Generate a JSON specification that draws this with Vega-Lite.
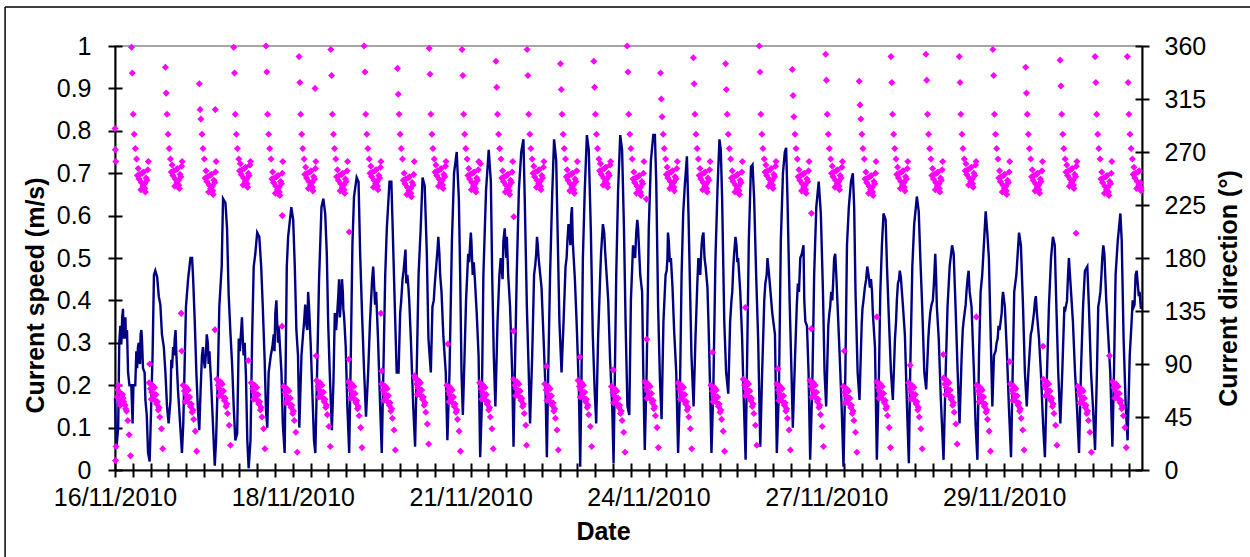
{
"$schema":"https://vega.github.io/schema/vega-lite/v6.json",
"width":1027,"height":424,
"autosize":{"type":"none"},
"padding":{"left":115,"top":46,"right":108,"bottom":87},
"background":"white",
"datasets":{
"speed":[
{"h":0,"s":0.17},{"h":0.5,"s":0.05},{"h":1.2,"s":0.10},{"h":1.6,"s":0.30},{"h":2.4,"s":0.30},{"h":3,"s":0.38},{"h":3.5,"s":0.33},{"h":3.9,"s":0.36},{"h":4.1,"s":0.31},{"h":4.5,"s":0.33},{"h":4.9,"s":0.23},{"h":5.4,"s":0.20},{"h":6.1,"s":0.20},{"h":6.6,"s":0.11},{"h":6.9,"s":0.20},{"h":7.6,"s":0.20},{"h":8,"s":0.28},{"h":8.6,"s":0.29},{"h":9.1,"s":0.26},{"h":9.6,"s":0.32},{"h":10.1,"s":0.31},{"h":10.5,"s":0.24},{"h":11.1,"s":0.23},{"h":11.4,"s":0.165},{"h":11.9,"s":0.13},{"h":12.4,"s":0.04},{"h":13,"s":0.02},{"h":13.6,"s":0.16},{"h":14.1,"s":0.275},{"h":14.6,"s":0.46},{"h":15.1,"s":0.47},{"h":15.8,"s":0.455},{"h":16.4,"s":0.41},{"h":17,"s":0.39},{"h":17.6,"s":0.32},{"h":18.3,"s":0.29},{"h":18.9,"s":0.23},{"h":19.5,"s":0.15},{"h":20.1,"s":0.11},{"h":20.8,"s":0.165},{"h":21.1,"s":0.26},{"h":21.8,"s":0.29},{"h":22.4,"s":0.31},{"h":23,"s":0.275},{"h":23.6,"s":0.19},{"h":24.4,"s":0.11},{"h":25.1,"s":0.04},{"h":25.6,"s":0.11},{"h":26.6,"s":0.385},{"h":27.4,"s":0.45},{"h":28.3,"s":0.50},{"h":28.9,"s":0.50},{"h":29.3,"s":0.45},{"h":29.9,"s":0.35},{"h":30.5,"s":0.23},{"h":31.1,"s":0.14},{"h":31.6,"s":0.094},{"h":32.1,"s":0.19},{"h":32.6,"s":0.27},{"h":33.3,"s":0.26},{"h":34.1,"s":0.275},{"h":34.8,"s":0.30},{"h":35.4,"s":0.28},{"h":36,"s":0.21},{"h":36.6,"s":0.125},{"h":37.4,"s":0.01},{"h":37.9,"s":0.07},{"h":38.6,"s":0.23},{"h":39.1,"s":0.385},{"h":40,"s":0.48},{"h":40.5,"s":0.64},{"h":41.4,"s":0.63},{"h":42,"s":0.57},{"h":42.6,"s":0.415},{"h":43.3,"s":0.32},{"h":43.9,"s":0.25},{"h":44.5,"s":0.15},{"h":45.1,"s":0.07},{"h":45.8,"s":0.086},{"h":46.4,"s":0.31},{"h":47.3,"s":0.33},{"h":47.9,"s":0.31},{"h":48.6,"s":0.30},{"h":49.1,"s":0.22},{"h":49.6,"s":0.07},{"h":50.1,"s":0.004},{"h":50.8,"s":0.07},{"h":51.4,"s":0.31},{"h":52,"s":0.48},{"h":52.6,"s":0.51},{"h":53.3,"s":0.56},{"h":54.1,"s":0.55},{"h":54.8,"s":0.48},{"h":55.4,"s":0.385},{"h":56.1,"s":0.26},{"h":56.6,"s":0.14},{"h":57.1,"s":0.10},{"h":57.6,"s":0.23},{"h":58.4,"s":0.27},{"h":59.5,"s":0.32},{"h":60.1,"s":0.37},{"h":60.9,"s":0.33},{"h":61.4,"s":0.34},{"h":62.4,"s":0.23},{"h":62.9,"s":0.11},{"h":63.6,"s":0.04},
{"h":64.4,"s":0.48},{"h":64.9,"s":0.55},{"h":66.1,"s":0.62},{"h":66.8,"s":0.59},{"h":67.4,"s":0.48},{"h":68,"s":0.33},{"h":68.6,"s":0.27},{"h":69.1,"s":0.10},{"h":69.9,"s":0.27},{"h":70.5,"s":0.32},{"h":71.3,"s":0.39},{"h":71.8,"s":0.34},{"h":72.4,"s":0.42},{"h":73,"s":0.35},{"h":73.4,"s":0.29},{"h":74,"s":0.18},{"h":74.6,"s":0.07},{"h":75.1,"s":0.04},{"h":75.9,"s":0.27},{"h":76.5,"s":0.45},{"h":77.4,"s":0.62},{"h":78.1,"s":0.64},{"h":78.8,"s":0.605},{"h":79.4,"s":0.51},{"h":79.9,"s":0.35},{"h":80.5,"s":0.23},{"h":81.3,"s":0.094},{"h":81.9,"s":0.21},{"h":82.4,"s":0.37},{"h":83.4,"s":0.38},{"h":84,"s":0.45},{"h":84.6,"s":0.39},{"h":85.4,"s":0.42},{"h":85.9,"s":0.36},{"h":86.5,"s":0.29},{"h":87.1,"s":0.15},{"h":87.8,"s":0.04},{"h":88.4,"s":0.27},{"h":89,"s":0.53},{"h":89.6,"s":0.645},{"h":90.6,"s":0.69},{"h":91.3,"s":0.68},{"h":91.9,"s":0.51},{"h":92.6,"s":0.37},{"h":93.4,"s":0.23},{"h":94.1,"s":0.126},{"h":94.9,"s":0.23},{"h":95.6,"s":0.35},{"h":96.4,"s":0.45},{"h":97.1,"s":0.44},{"h":97.9,"s":0.42},{"h":98.6,"s":0.31},{"h":99.4,"s":0.15},{"h":100,"s":0.04},{"h":100.6,"s":0.23},{"h":101.3,"s":0.46},{"h":101.9,"s":0.57},{"h":102.9,"s":0.68},{"h":103.6,"s":0.68},{"h":104.1,"s":0.57},{"h":104.9,"s":0.385},{"h":105.6,"s":0.23},{"h":106.3,"s":0.23},{"h":106.9,"s":0.37},{"h":107.8,"s":0.45},{"h":108.6,"s":0.50},{"h":109.6,"s":0.46},{"h":110.3,"s":0.40},{"h":110.9,"s":0.31},{"h":111.8,"s":0.15},{"h":112.5,"s":0.055},{"h":113.1,"s":0.23},{"h":113.8,"s":0.46},{"h":114.6,"s":0.57},{"h":115.3,"s":0.69},{"h":116.1,"s":0.67},{"h":116.9,"s":0.51},{"h":117.5,"s":0.31},{"h":118.4,"s":0.23},{"h":119,"s":0.385},{"h":119.9,"s":0.44},{"h":120.9,"s":0.52},{"h":121.6,"s":0.51},{"h":122.4,"s":0.42},{"h":123.1,"s":0.315},{"h":124,"s":0.23},{"h":124.6,"s":0.07},{"h":125.4,"s":0.23},{"h":126.3,"s":0.54},{"h":127.1,"s":0.70},{"h":128.1,"s":0.75},
{"h":128.9,"s":0.64},{"h":129.4,"s":0.46},{"h":129.9,"s":0.23},{"h":130.4,"s":0.13},{"h":131,"s":0.26},{"h":131.6,"s":0.40},{"h":132.4,"s":0.51},{"h":133.1,"s":0.53},{"h":133.6,"s":0.54},{"h":134.1,"s":0.46},{"h":134.9,"s":0.45},{"h":135.6,"s":0.37},{"h":136.3,"s":0.27},{"h":136.9,"s":0.03},{"h":137.5,"s":0.15},{"h":138.1,"s":0.46},{"h":139.1,"s":0.66},{"h":140.1,"s":0.755},{"h":140.9,"s":0.68},{"h":141.4,"s":0.46},{"h":142,"s":0.27},{"h":142.6,"s":0.15},{"h":143.4,"s":0.35},{"h":144.1,"s":0.46},{"h":145,"s":0.47},{"h":145.6,"s":0.54},{"h":146.4,"s":0.53},{"h":146.9,"s":0.55},{"h":147.4,"s":0.46},{"h":148.1,"s":0.385},{"h":148.9,"s":0.23},{"h":149.4,"s":0.055},{"h":149.9,"s":0.23},{"h":150.6,"s":0.46},{"h":151.4,"s":0.66},{"h":152.3,"s":0.75},{"h":153.1,"s":0.78},{"h":153.6,"s":0.64},{"h":154.4,"s":0.385},{"h":155.1,"s":0.23},{"h":155.6,"s":0.11},{"h":156.4,"s":0.27},{"h":157.1,"s":0.46},{"h":157.9,"s":0.51},{"h":158.5,"s":0.53},{"h":159.1,"s":0.48},{"h":159.9,"s":0.43},{"h":160.6,"s":0.32},{"h":161.4,"s":0.19},{"h":161.9,"s":0.03},{"h":162.4,"s":0.23},{"h":163.1,"s":0.46},{"h":163.9,"s":0.65},{"h":164.6,"s":0.78},{"h":165.4,"s":0.73},{"h":166,"s":0.54},{"h":166.6,"s":0.35},{"h":167.4,"s":0.23},{"h":168.1,"s":0.34},{"h":168.9,"s":0.48},{"h":169.6,"s":0.54},{"h":170.4,"s":0.56},{"h":171,"s":0.60},{"h":171.6,"s":0.54},{"h":172.4,"s":0.45},{"h":173.1,"s":0.34},{"h":173.9,"s":0.19},{"h":174.4,"s":0.008},{"h":174.9,"s":0.23},{"h":175.4,"s":0.50},{"h":176.1,"s":0.66},{"h":176.9,"s":0.79},{"h":177.6,"s":0.755},{"h":178.4,"s":0.56},{"h":179.1,"s":0.32},{"h":179.8,"s":0.19},{"h":180.4,"s":0.11},{"h":181.1,"s":0.31},{"h":181.9,"s":0.46},{"h":182.6,"s":0.55},{"h":183.4,"s":0.56},{"h":184.1,"s":0.48},{"h":184.9,"s":0.40},{"h":185.6,"s":0.26},{"h":186.4,"s":0.15},{"h":186.9,"s":0.016},{"h":187.4,"s":0.23},{"h":187.9,"s":0.46},{"h":188.6,"s":0.66},{"h":189.4,"s":0.79},{"h":190.1,"s":0.755},{"h":190.8,"s":0.57},{"h":191.4,"s":0.35},{"h":192.1,"s":0.15},{"h":192.8,"s":0.13},
{"h":193.4,"s":0.40},{"h":193.9,"s":0.48},{"h":194.6,"s":0.51},{"h":195.4,"s":0.56},{"h":196.1,"s":0.57},{"h":196.9,"s":0.46},{"h":197.6,"s":0.42},{"h":198.1,"s":0.21},{"h":198.6,"s":0.047},{"h":199.3,"s":0.23},{"h":200.1,"s":0.57},{"h":200.9,"s":0.73},{"h":201.8,"s":0.79},{"h":202.4,"s":0.79},{"h":202.9,"s":0.68},{"h":203.6,"s":0.385},{"h":204.3,"s":0.21},{"h":204.9,"s":0.12},{"h":205.6,"s":0.35},{"h":206.4,"s":0.46},{"h":207.1,"s":0.50},{"h":207.6,"s":0.54},{"h":208.4,"s":0.50},{"h":209,"s":0.43},{"h":209.6,"s":0.33},{"h":210.4,"s":0.23},{"h":211.1,"s":0.04},{"h":211.8,"s":0.19},{"h":212.4,"s":0.46},{"h":213,"s":0.605},{"h":213.6,"s":0.67},{"h":214.4,"s":0.74},{"h":215,"s":0.60},{"h":215.6,"s":0.42},{"h":216.1,"s":0.27},{"h":216.9,"s":0.15},{"h":217.6,"s":0.31},{"h":218.3,"s":0.44},{"h":219,"s":0.48},{"h":219.9,"s":0.53},{"h":220.6,"s":0.56},{"h":221.4,"s":0.48},{"h":222.1,"s":0.43},{"h":222.6,"s":0.32},{"h":223.1,"s":0.19},{"h":223.6,"s":0.04},{"h":224.3,"s":0.19},{"h":225.1,"s":0.50},{"h":225.9,"s":0.67},{"h":226.6,"s":0.78},{"h":227.1,"s":0.755},{"h":227.6,"s":0.64},{"h":228.4,"s":0.35},{"h":229.1,"s":0.23},{"h":229.9,"s":0.18},{"h":230.6,"s":0.35},{"h":231.4,"s":0.42},{"h":232.1,"s":0.51},{"h":233,"s":0.53},{"h":233.6,"s":0.50},{"h":234.4,"s":0.42},{"h":235.1,"s":0.31},{"h":235.6,"s":0.19},{"h":236.4,"s":0.024},{"h":236.9,"s":0.23},{"h":237.6,"s":0.54},{"h":238.4,"s":0.715},{"h":239,"s":0.72},{"h":239.6,"s":0.64},{"h":240.4,"s":0.45},{"h":241.1,"s":0.31},{"h":241.9,"s":0.055},{"h":242.6,"s":0.23},{"h":243.4,"s":0.40},{"h":244.3,"s":0.46},{"h":244.9,"s":0.48},{"h":245.6,"s":0.43},{"h":246.4,"s":0.37},{"h":247.4,"s":0.32},{"h":248.1,"s":0.04},{"h":248.9,"s":0.19},{"h":249.6,"s":0.54},{"h":250.4,"s":0.70},{"h":251.1,"s":0.75},{"h":251.6,"s":0.76},{"h":252.1,"s":0.64},{"h":252.9,"s":0.40},{"h":253.6,"s":0.23},{"h":254.1,"s":0.10},{"h":254.9,"s":0.26},{"h":255.6,"s":0.39},{"h":256.4,"s":0.42},
{"h":257.5,"s":0.51},{"h":258.1,"s":0.53},{"h":258.8,"s":0.35},{"h":259.4,"s":0.34},{"h":260,"s":0.23},{"h":260.6,"s":0.024},{"h":261.4,"s":0.2},{"h":262.1,"s":0.46},{"h":262.9,"s":0.62},{"h":263.8,"s":0.68},{"h":264.6,"s":0.605},{"h":265.4,"s":0.42},{"h":266,"s":0.23},{"h":266.6,"s":0.15},{"h":267.4,"s":0.34},{"h":268.1,"s":0.385},{"h":268.9,"s":0.40},{"h":269.6,"s":0.50},{"h":270.4,"s":0.46},{"h":270.9,"s":0.385},{"h":271.6,"s":0.28},{"h":272.4,"s":0.15},{"h":273.1,"s":0.008},{"h":273.8,"s":0.23},{"h":274.4,"s":0.53},{"h":275.1,"s":0.62},{"h":275.9,"s":0.68},{"h":276.6,"s":0.70},{"h":277.1,"s":0.62},{"h":277.6,"s":0.42},{"h":278.4,"s":0.23},{"h":279.1,"s":0.165},{"h":279.9,"s":0.34},{"h":280.6,"s":0.40},{"h":281.6,"s":0.45},{"h":282.5,"s":0.46},{"h":283.4,"s":0.45},{"h":284.1,"s":0.37},{"h":284.9,"s":0.29},{"h":285.6,"s":0.024},{"h":286.4,"s":0.23},{"h":286.9,"s":0.42},{"h":287.5,"s":0.53},{"h":288.1,"s":0.605},{"h":288.9,"s":0.59},{"h":289.4,"s":0.48},{"h":290.1,"s":0.36},{"h":290.9,"s":0.23},{"h":291.6,"s":0.165},{"h":292.4,"s":0.31},{"h":293.1,"s":0.40},{"h":293.9,"s":0.45},{"h":294.6,"s":0.455},{"h":295.4,"s":0.385},{"h":296.1,"s":0.32},{"h":296.9,"s":0.15},{"h":297.6,"s":0.016},{"h":298.1,"s":0.23},{"h":298.9,"s":0.48},{"h":299.6,"s":0.58},{"h":300.6,"s":0.645},{"h":301.3,"s":0.61},{"h":301.9,"s":0.50},{"h":302.6,"s":0.385},{"h":303.4,"s":0.23},{"h":304.1,"s":0.19},{"h":304.9,"s":0.31},{"h":305.6,"s":0.37},{"h":306.6,"s":0.40},{"h":307.5,"s":0.51},{"h":308.1,"s":0.385},{"h":308.8,"s":0.31},{"h":309.6,"s":0.165},{"h":310.6,"s":0.024},{"h":311.4,"s":0.23},{"h":312.1,"s":0.385},{"h":312.9,"s":0.48},{"h":313.8,"s":0.53},{"h":314.4,"s":0.51},{"h":315.1,"s":0.385},{"h":315.9,"s":0.23},{"h":316.6,"s":0.11},{"h":317.4,"s":0.27},{"h":318.1,"s":0.35},{"h":318.9,"s":0.39},{"h":319.6,"s":0.45},{"h":320.4,"s":0.42},{"h":321.1,"s":0.385},
{"h":322,"s":0.23},{"h":322.6,"s":0.11},{"h":323.3,"s":0.024},{"h":323.9,"s":0.27},{"h":324.5,"s":0.42},{"h":325.1,"s":0.46},{"h":325.8,"s":0.54},{"h":326.4,"s":0.61},{"h":327,"s":0.56},{"h":327.6,"s":0.50},{"h":328.3,"s":0.31},{"h":328.9,"s":0.15},{"h":329.5,"s":0.27},{"h":330.1,"s":0.28},{"h":330.9,"s":0.31},{"h":331.6,"s":0.33},{"h":332.4,"s":0.37},{"h":332.9,"s":0.42},{"h":333.6,"s":0.385},{"h":334.4,"s":0.27},{"h":335.1,"s":0.15},{"h":335.9,"s":0.03},{"h":336.4,"s":0.19},{"h":337.1,"s":0.42},{"h":337.9,"s":0.46},{"h":338.9,"s":0.56},{"h":339.6,"s":0.53},{"h":340.4,"s":0.385},{"h":341.1,"s":0.23},{"h":341.8,"s":0.15},{"h":342.4,"s":0.23},{"h":343.3,"s":0.32},{"h":344.1,"s":0.35},{"h":344.9,"s":0.40},{"h":345.6,"s":0.37},{"h":346.4,"s":0.31},{"h":347.1,"s":0.23},{"h":347.9,"s":0.11},{"h":348.6,"s":0.03},{"h":349.4,"s":0.23},{"h":350.1,"s":0.385},{"h":350.9,"s":0.50},{"h":351.6,"s":0.55},{"h":352.3,"s":0.53},{"h":352.9,"s":0.385},{"h":353.6,"s":0.23},{"h":354.4,"s":0.11},{"h":355.1,"s":0.23},{"h":355.9,"s":0.385},{"h":356.9,"s":0.40},{"h":357.6,"s":0.50},{"h":358.4,"s":0.42},{"h":359.1,"s":0.35},{"h":359.9,"s":0.23},{"h":360.6,"s":0.15},{"h":361.4,"s":0.04},{"h":362.1,"s":0.23},{"h":362.9,"s":0.385},{"h":363.6,"s":0.47},{"h":364.5,"s":0.48},{"h":365.1,"s":0.385},{"h":365.9,"s":0.23},{"h":366.6,"s":0.15},{"h":367.4,"s":0.047},{"h":368.1,"s":0.23},{"h":368.6,"s":0.385},{"h":369.4,"s":0.42},{"h":370.1,"s":0.50},{"h":370.9,"s":0.51},{"h":371.6,"s":0.40},{"h":372.4,"s":0.31},{"h":373.1,"s":0.23},{"h":373.9,"s":0.055},{"h":374.5,"s":0.23},{"h":375.1,"s":0.46},{"h":375.9,"s":0.54},{"h":376.9,"s":0.605},{"h":377.4,"s":0.54},{"h":378.1,"s":0.31},{"h":378.9,"s":0.15},{"h":379.6,"s":0.07},{"h":380.4,"s":0.27},{"h":381.1,"s":0.35},{"h":381.9,"s":0.385},{"h":382.6,"s":0.46},{"h":383.4,"s":0.44},{"h":384.1,"s":0.42},{"h":384.6,"s":0.38},
{"h":2.0,"s":0.34},{"h":2.7,"s":0.36},{"h":3.2,"s":0.31},
{"h":8.3,"s":0.24},{"h":8.9,"s":0.30},{"h":9.4,"s":0.25},{"h":9.9,"s":0.33},
{"h":21.4,"s":0.24},{"h":22.1,"s":0.27},{"h":22.7,"s":0.33},
{"h":33.0,"s":0.29},{"h":33.7,"s":0.24},{"h":34.4,"s":0.32},{"h":35.1,"s":0.25},
{"h":46.8,"s":0.28},{"h":47.6,"s":0.36},{"h":48.2,"s":0.27},
{"h":59.0,"s":0.29},{"h":59.8,"s":0.28},{"h":60.5,"s":0.40},{"h":61.1,"s":0.30},
{"h":70.9,"s":0.35},{"h":71.6,"s":0.36},{"h":72.1,"s":0.33},{"h":72.7,"s":0.39},
{"h":82.9,"s":0.33},{"h":83.7,"s":0.41},{"h":84.3,"s":0.36},{"h":85.1,"s":0.45},{"h":85.6,"s":0.38},
{"h":96.0,"s":0.40},{"h":96.8,"s":0.48},{"h":97.5,"s":0.39},
{"h":107.3,"s":0.40},{"h":108.2,"s":0.47},{"h":108.9,"s":0.52},{"h":109.2,"s":0.44},{"h":110.0,"s":0.43},
{"h":119.5,"s":0.40},{"h":120.4,"s":0.48},{"h":121.2,"s":0.55},{"h":121.9,"s":0.46},
{"h":132.8,"s":0.49},{"h":133.4,"s":0.56},{"h":134.5,"s":0.49},
{"h":144.6,"s":0.50},{"h":145.3,"s":0.45},{"h":146.1,"s":0.57},{"h":146.7,"s":0.50},
{"h":157.5,"s":0.48},{"h":158.2,"s":0.55},{"h":158.8,"s":0.50},
{"h":169.3,"s":0.50},{"h":170.0,"s":0.58},{"h":170.7,"s":0.53},{"h":171.3,"s":0.62},
{"h":182.2,"s":0.51},{"h":182.9,"s":0.58},{"h":183.7,"s":0.52},
{"h":194.2,"s":0.53},{"h":195.0,"s":0.50},{"h":195.8,"s":0.59},
{"h":206.8,"s":0.47},{"h":207.3,"s":0.56},{"h":208.0,"s":0.49},
{"h":218.7,"s":0.50},{"h":219.4,"s":0.46},{"h":220.2,"s":0.55},{"h":221.0,"s":0.50},
{"h":231.1,"s":0.40},{"h":231.8,"s":0.48},{"h":232.6,"s":0.55},{"h":233.3,"s":0.49},
{"h":243.8,"s":0.44},{"h":244.6,"s":0.50},{"h":245.2,"s":0.46},{"h":246.0,"s":0.40},
{"h":256.0,"s":0.44},{"h":256.9,"s":0.50},{"h":258.4,"s":0.40},
{"h":267.8,"s":0.37},{"h":268.5,"s":0.42},{"h":269.2,"s":0.44},{"h":270.0,"s":0.51},
{"h":280.2,"s":0.38},{"h":281.1,"s":0.43},{"h":282.0,"s":0.48},{"h":283.0,"s":0.43},{"h":283.8,"s":0.42},
{"h":292.8,"s":0.35},{"h":293.5,"s":0.44},{"h":294.2,"s":0.47},{"h":295.0,"s":0.42},
{"h":305.2,"s":0.34},{"h":306.1,"s":0.39},{"h":307.0,"s":0.44},{"h":307.8,"s":0.46},
{"h":317.8,"s":0.33},{"h":318.5,"s":0.37},{"h":319.2,"s":0.42},{"h":320.0,"s":0.47},
{"h":330.5,"s":0.30},{"h":331.2,"s":0.34},{"h":332.0,"s":0.35},{"h":332.6,"s":0.40},
{"h":343.7,"s":0.33},{"h":344.5,"s":0.37},{"h":345.2,"s":0.41},
{"h":356.3,"s":0.38},{"h":357.2,"s":0.45},{"h":358.0,"s":0.46},
{"h":369.0,"s":0.40},{"h":369.8,"s":0.46},{"h":370.5,"s":0.53},
{"h":381.5,"s":0.40},{"h":382.2,"s":0.39},{"h":383.0,"s":0.47},{"h":383.8,"s":0.41}
],
"dir":[
{"h":0.0,"d":290},{"h":0.1,"d":272},{"h":0.3,"d":262},{"h":0.2,"d":8},{"h":0.4,"d":20},{"h":0.8,"d":62},{"h":1.3,"d":72},{"h":1.6,"d":58},{"h":1.8,"d":66},{"h":2.3,"d":60},{"h":2.8,"d":64},{"h":3.3,"d":58},{"h":3.8,"d":55},{"h":4.3,"d":50},{"h":4.8,"d":42},{"h":5.3,"d":30},{"h":5.8,"d":12},
{"h":6.2,"d":359},{"h":6.5,"d":337},{"h":6.8,"d":302},{"h":7.2,"d":285},{"h":7.6,"d":273},{"h":8.1,"d":264},{"h":8.7,"d":256},{"h":9.0,"d":247},{"h":9.3,"d":251},{"h":9.9,"d":244},{"h":10.2,"d":252},{"h":10.5,"d":241},{"h":11.1,"d":243},{"h":11.4,"d":236},{"h":11.7,"d":248},{"h":12.3,"d":255},
{"h":12.8,"d":74},{"h":13.3,"d":69},{"h":13.6,"d":60},{"h":13.8,"d":66},{"h":14.4,"d":63},{"h":14.8,"d":70},{"h":15.0,"d":59},{"h":15.6,"d":56},{"h":16.2,"d":51},{"h":16.8,"d":45},{"h":17.4,"d":35},{"h":17.9,"d":18},
{"h":18.9,"d":342},{"h":19.2,"d":320},{"h":19.5,"d":302},{"h":19.9,"d":285},{"h":20.3,"d":273},{"h":20.8,"d":264},{"h":21.4,"d":259},{"h":21.7,"d":250},{"h":22.0,"d":254},{"h":22.6,"d":247},{"h":22.9,"d":255},{"h":23.2,"d":244},{"h":23.8,"d":246},{"h":24.1,"d":239},{"h":24.4,"d":251},{"h":25.0,"d":258},
{"h":25.5,"d":72},{"h":26.0,"d":67},{"h":26.3,"d":58},{"h":26.5,"d":64},{"h":27.1,"d":61},{"h":27.5,"d":68},{"h":27.7,"d":57},{"h":28.3,"d":54},{"h":28.9,"d":49},{"h":29.5,"d":43},{"h":30.1,"d":33},{"h":30.6,"d":16},
{"h":31.6,"d":328},{"h":31.9,"d":306},{"h":32.2,"d":298},{"h":32.6,"d":285},{"h":33.0,"d":273},{"h":33.5,"d":264},{"h":34.1,"d":254},{"h":34.4,"d":245},{"h":34.7,"d":249},{"h":35.3,"d":242},{"h":35.6,"d":250},{"h":35.9,"d":239},{"h":36.5,"d":241},{"h":36.8,"d":234},{"h":37.1,"d":246},{"h":37.7,"d":253},
{"h":38.2,"d":77},{"h":38.7,"d":72},{"h":39.0,"d":63},{"h":39.2,"d":69},{"h":39.8,"d":66},{"h":40.2,"d":73},{"h":40.4,"d":62},{"h":41.0,"d":59},{"h":41.6,"d":54},{"h":42.2,"d":48},{"h":42.8,"d":38},{"h":43.3,"d":21},
{"h":44.5,"d":359},{"h":44.8,"d":337},{"h":45.1,"d":302},{"h":45.5,"d":285},{"h":45.9,"d":273},{"h":46.4,"d":264},{"h":47.0,"d":260},{"h":47.3,"d":251},{"h":47.6,"d":255},{"h":48.2,"d":248},{"h":48.5,"d":256},{"h":48.8,"d":245},{"h":49.4,"d":247},{"h":49.7,"d":240},{"h":50.0,"d":252},{"h":50.6,"d":259},
{"h":51.1,"d":74},{"h":51.6,"d":69},{"h":51.9,"d":60},{"h":52.1,"d":66},{"h":52.7,"d":63},{"h":53.1,"d":70},{"h":53.3,"d":59},{"h":53.9,"d":56},{"h":54.5,"d":51},{"h":55.1,"d":45},{"h":55.7,"d":35},{"h":56.2,"d":18},
{"h":56.6,"d":360},{"h":56.9,"d":338},{"h":57.2,"d":302},{"h":57.6,"d":285},{"h":58.0,"d":273},{"h":58.5,"d":264},{"h":59.1,"d":253},{"h":59.4,"d":244},{"h":59.7,"d":248},{"h":60.3,"d":241},{"h":60.6,"d":249},{"h":60.9,"d":238},{"h":61.5,"d":240},{"h":61.8,"d":233},{"h":62.1,"d":245},{"h":62.7,"d":252},
{"h":63.2,"d":71},{"h":63.7,"d":66},{"h":64.0,"d":57},{"h":64.2,"d":63},{"h":64.8,"d":60},{"h":65.2,"d":67},{"h":65.4,"d":56},{"h":66.0,"d":53},{"h":66.6,"d":48},{"h":67.2,"d":42},{"h":67.8,"d":32},{"h":68.3,"d":15},
{"h":69.0,"d":351},{"h":69.3,"d":329},{"h":69.6,"d":302},{"h":70.0,"d":285},{"h":70.4,"d":273},{"h":70.9,"d":264},{"h":71.5,"d":257},{"h":71.8,"d":248},{"h":72.1,"d":252},{"h":72.7,"d":245},{"h":73.0,"d":253},{"h":73.3,"d":242},{"h":73.9,"d":244},{"h":74.2,"d":237},{"h":74.5,"d":249},{"h":75.1,"d":256},
{"h":75.6,"d":76},{"h":76.1,"d":71},{"h":76.4,"d":62},{"h":76.6,"d":68},{"h":77.2,"d":65},{"h":77.6,"d":72},{"h":77.8,"d":61},{"h":78.4,"d":58},{"h":79.0,"d":53},{"h":79.6,"d":47},{"h":80.2,"d":37},{"h":80.7,"d":20},
{"h":80.9,"d":357},{"h":81.2,"d":335},{"h":81.5,"d":302},{"h":81.9,"d":285},{"h":82.3,"d":273},{"h":82.8,"d":264},{"h":83.4,"d":255},{"h":83.7,"d":246},{"h":84.0,"d":250},{"h":84.6,"d":243},{"h":84.9,"d":251},{"h":85.2,"d":240},{"h":85.8,"d":242},{"h":86.1,"d":235},{"h":86.4,"d":247},{"h":87.0,"d":254},
{"h":87.5,"d":75},{"h":88.0,"d":70},{"h":88.3,"d":61},{"h":88.5,"d":67},{"h":89.1,"d":64},{"h":89.5,"d":71},{"h":89.7,"d":60},{"h":90.3,"d":57},{"h":90.9,"d":52},{"h":91.5,"d":46},{"h":92.1,"d":36},{"h":92.6,"d":19},
{"h":93.4,"d":360},{"h":93.7,"d":338},{"h":94.0,"d":302},{"h":94.4,"d":285},{"h":94.8,"d":273},{"h":95.3,"d":264},{"h":95.9,"d":258},{"h":96.2,"d":249},{"h":96.5,"d":253},{"h":97.1,"d":246},{"h":97.4,"d":254},{"h":97.7,"d":243},{"h":98.3,"d":245},{"h":98.6,"d":238},{"h":98.9,"d":250},{"h":99.5,"d":257},
{"h":100.0,"d":73},{"h":100.5,"d":68},{"h":100.8,"d":59},{"h":101.0,"d":65},{"h":101.6,"d":62},{"h":102.0,"d":69},{"h":102.2,"d":58},{"h":102.8,"d":55},{"h":103.4,"d":50},{"h":104.0,"d":44},{"h":104.6,"d":34},{"h":105.1,"d":17},
{"h":105.9,"d":341},{"h":106.2,"d":319},{"h":106.5,"d":302},{"h":106.9,"d":285},{"h":107.3,"d":273},{"h":107.8,"d":264},{"h":108.4,"d":252},{"h":108.7,"d":243},{"h":109.0,"d":247},{"h":109.6,"d":240},{"h":109.9,"d":248},{"h":110.2,"d":237},{"h":110.8,"d":239},{"h":111.1,"d":232},{"h":111.4,"d":244},{"h":112.0,"d":251},
{"h":112.5,"d":78},{"h":113.0,"d":73},{"h":113.3,"d":64},{"h":113.5,"d":70},{"h":114.1,"d":67},{"h":114.5,"d":74},{"h":114.7,"d":63},{"h":115.3,"d":60},{"h":115.9,"d":55},{"h":116.5,"d":49},{"h":117.1,"d":39},{"h":117.6,"d":22},
{"h":117.8,"d":358},{"h":118.1,"d":336},{"h":118.4,"d":302},{"h":118.8,"d":285},{"h":119.2,"d":273},{"h":119.7,"d":264},{"h":120.3,"d":259},{"h":120.6,"d":250},{"h":120.9,"d":254},{"h":121.5,"d":247},{"h":121.8,"d":255},{"h":122.1,"d":244},{"h":122.7,"d":246},{"h":123.0,"d":239},{"h":123.3,"d":251},{"h":123.9,"d":258},
{"h":124.4,"d":72},{"h":124.9,"d":67},{"h":125.2,"d":58},{"h":125.4,"d":64},{"h":126.0,"d":61},{"h":126.4,"d":68},{"h":126.6,"d":57},{"h":127.2,"d":54},{"h":127.8,"d":49},{"h":128.4,"d":43},{"h":129.0,"d":33},{"h":129.5,"d":16},
{"h":130.1,"d":357},{"h":130.4,"d":335},{"h":130.7,"d":302},{"h":131.1,"d":285},{"h":131.5,"d":273},{"h":132.0,"d":264},{"h":132.6,"d":256},{"h":132.9,"d":247},{"h":133.2,"d":251},{"h":133.8,"d":244},{"h":134.1,"d":252},{"h":134.4,"d":241},{"h":135.0,"d":243},{"h":135.3,"d":236},{"h":135.6,"d":248},{"h":136.2,"d":255},
{"h":136.7,"d":74},{"h":137.2,"d":69},{"h":137.5,"d":60},{"h":137.7,"d":66},{"h":138.3,"d":63},{"h":138.7,"d":70},{"h":138.9,"d":59},{"h":139.5,"d":56},{"h":140.1,"d":51},{"h":140.7,"d":45},{"h":141.3,"d":35},{"h":141.8,"d":18},
{"h":142.8,"d":347},{"h":143.1,"d":325},{"h":143.4,"d":302},{"h":143.8,"d":285},{"h":144.2,"d":273},{"h":144.7,"d":264},{"h":145.3,"d":254},{"h":145.6,"d":245},{"h":145.9,"d":249},{"h":146.5,"d":242},{"h":146.8,"d":250},{"h":147.1,"d":239},{"h":147.7,"d":241},{"h":148.0,"d":234},{"h":148.3,"d":246},{"h":148.9,"d":253},
{"h":149.4,"d":77},{"h":149.9,"d":72},{"h":150.2,"d":63},{"h":150.4,"d":69},{"h":151.0,"d":66},{"h":151.4,"d":73},{"h":151.6,"d":62},{"h":152.2,"d":59},{"h":152.8,"d":54},{"h":153.4,"d":48},{"h":154.0,"d":38},{"h":154.3,"d":21},
{"h":154.5,"d":357},{"h":154.8,"d":335},{"h":155.1,"d":302},{"h":155.5,"d":285},{"h":155.9,"d":273},{"h":156.4,"d":264},{"h":157.0,"d":258},{"h":157.3,"d":249},{"h":157.6,"d":253},{"h":158.2,"d":246},{"h":158.5,"d":254},{"h":158.8,"d":243},{"h":159.4,"d":245},{"h":159.7,"d":238},{"h":160.0,"d":250},{"h":160.6,"d":257},
{"h":161.1,"d":73},{"h":161.6,"d":68},{"h":161.9,"d":59},{"h":162.1,"d":65},{"h":162.7,"d":62},{"h":163.1,"d":69},{"h":163.3,"d":58},{"h":163.9,"d":55},{"h":164.5,"d":50},{"h":165.1,"d":44},{"h":165.7,"d":34},{"h":166.2,"d":17},
{"h":167.0,"d":345},{"h":167.3,"d":323},{"h":167.6,"d":302},{"h":168.0,"d":285},{"h":168.4,"d":273},{"h":168.9,"d":264},{"h":169.5,"d":255},{"h":169.8,"d":246},{"h":170.1,"d":250},{"h":170.7,"d":243},{"h":171.0,"d":251},{"h":171.3,"d":240},{"h":171.9,"d":242},{"h":172.2,"d":235},{"h":172.5,"d":247},{"h":173.1,"d":254},
{"h":173.6,"d":76},{"h":174.1,"d":71},{"h":174.4,"d":62},{"h":174.6,"d":68},{"h":175.2,"d":65},{"h":175.6,"d":72},{"h":175.8,"d":61},{"h":176.4,"d":58},{"h":177.0,"d":53},{"h":177.6,"d":47},{"h":178.2,"d":37},{"h":178.7,"d":20},
{"h":179.5,"d":347},{"h":179.8,"d":325},{"h":180.1,"d":302},{"h":180.5,"d":285},{"h":180.9,"d":273},{"h":181.4,"d":264},{"h":182.0,"d":260},{"h":182.3,"d":251},{"h":182.6,"d":255},{"h":183.2,"d":248},{"h":183.5,"d":256},{"h":183.8,"d":245},{"h":184.4,"d":247},{"h":184.7,"d":240},{"h":185.0,"d":252},{"h":185.6,"d":259},
{"h":186.1,"d":71},{"h":186.6,"d":66},{"h":186.9,"d":57},{"h":187.1,"d":63},{"h":187.7,"d":60},{"h":188.1,"d":67},{"h":188.3,"d":56},{"h":188.9,"d":53},{"h":189.5,"d":48},{"h":190.1,"d":42},{"h":190.7,"d":32},{"h":191.2,"d":15},
{"h":192.0,"d":360},{"h":192.3,"d":338},{"h":192.6,"d":302},{"h":193.0,"d":285},{"h":193.4,"d":273},{"h":193.9,"d":264},{"h":194.5,"d":253},{"h":194.8,"d":244},{"h":195.1,"d":248},{"h":195.7,"d":241},{"h":196.0,"d":249},{"h":196.3,"d":238},{"h":196.9,"d":240},{"h":197.2,"d":233},{"h":197.5,"d":245},{"h":198.1,"d":252},
{"h":198.6,"d":75},{"h":199.1,"d":70},{"h":199.4,"d":61},{"h":199.6,"d":67},{"h":200.2,"d":64},{"h":200.6,"d":71},{"h":200.8,"d":60},{"h":201.4,"d":57},{"h":202.0,"d":52},{"h":202.6,"d":46},{"h":203.2,"d":36},{"h":203.7,"d":19},
{"h":204.5,"d":337},{"h":204.8,"d":315},{"h":205.1,"d":300},{"h":205.5,"d":285},{"h":205.9,"d":273},{"h":206.4,"d":264},{"h":207.0,"d":257},{"h":207.3,"d":248},{"h":207.6,"d":252},{"h":208.2,"d":245},{"h":208.5,"d":253},{"h":208.8,"d":242},{"h":209.4,"d":244},{"h":209.7,"d":237},{"h":210.0,"d":249},{"h":210.6,"d":256},
{"h":211.1,"d":74},{"h":211.6,"d":69},{"h":211.9,"d":60},{"h":212.1,"d":66},{"h":212.7,"d":63},{"h":213.1,"d":70},{"h":213.3,"d":59},{"h":213.9,"d":56},{"h":214.5,"d":51},{"h":215.1,"d":45},{"h":215.7,"d":35},{"h":216.2,"d":18},
{"h":216.8,"d":350},{"h":217.1,"d":328},{"h":217.4,"d":302},{"h":217.8,"d":285},{"h":218.2,"d":273},{"h":218.7,"d":264},{"h":219.3,"d":256},{"h":219.6,"d":247},{"h":219.9,"d":251},{"h":220.5,"d":244},{"h":220.8,"d":252},{"h":221.1,"d":241},{"h":221.7,"d":243},{"h":222.0,"d":236},{"h":222.3,"d":248},{"h":222.9,"d":255},
{"h":223.4,"d":72},{"h":223.9,"d":67},{"h":224.2,"d":58},{"h":224.4,"d":64},{"h":225.0,"d":61},{"h":225.4,"d":68},{"h":225.6,"d":57},{"h":226.2,"d":54},{"h":226.8,"d":49},{"h":227.4,"d":43},{"h":228.0,"d":33},{"h":228.5,"d":16},
{"h":228.9,"d":345},{"h":229.2,"d":323},{"h":229.5,"d":302},{"h":229.9,"d":285},{"h":230.3,"d":273},{"h":230.8,"d":264},{"h":231.4,"d":254},{"h":231.7,"d":245},{"h":232.0,"d":249},{"h":232.6,"d":242},{"h":232.9,"d":250},{"h":233.2,"d":239},{"h":233.8,"d":241},{"h":234.1,"d":234},{"h":234.4,"d":246},{"h":235.0,"d":253},
{"h":235.5,"d":77},{"h":236.0,"d":72},{"h":236.3,"d":63},{"h":236.5,"d":69},{"h":237.1,"d":66},{"h":237.5,"d":73},{"h":237.7,"d":62},{"h":238.3,"d":59},{"h":238.9,"d":54},{"h":239.5,"d":48},{"h":240.1,"d":38},{"h":240.6,"d":21},
{"h":241.5,"d":360},{"h":241.8,"d":338},{"h":242.1,"d":302},{"h":242.5,"d":285},{"h":242.9,"d":273},{"h":243.4,"d":264},{"h":244.0,"d":259},{"h":244.3,"d":250},{"h":244.6,"d":254},{"h":245.2,"d":247},{"h":245.5,"d":255},{"h":245.8,"d":244},{"h":246.4,"d":246},{"h":246.7,"d":239},{"h":247.0,"d":251},{"h":247.6,"d":258},
{"h":248.1,"d":73},{"h":248.6,"d":68},{"h":248.9,"d":59},{"h":249.1,"d":65},{"h":249.7,"d":62},{"h":250.1,"d":69},{"h":250.3,"d":58},{"h":250.9,"d":55},{"h":251.5,"d":50},{"h":252.1,"d":44},{"h":252.7,"d":34},{"h":253.2,"d":17},
{"h":253.9,"d":340},{"h":254.2,"d":318},{"h":254.5,"d":300},{"h":254.9,"d":285},{"h":255.3,"d":273},{"h":255.8,"d":264},{"h":256.4,"d":255},{"h":256.7,"d":246},{"h":257.0,"d":250},{"h":257.6,"d":243},{"h":257.9,"d":251},{"h":258.2,"d":240},{"h":258.8,"d":242},{"h":259.1,"d":235},{"h":259.4,"d":247},{"h":260.0,"d":254},
{"h":260.5,"d":76},{"h":261.0,"d":71},{"h":261.3,"d":62},{"h":261.5,"d":68},{"h":262.1,"d":65},{"h":262.5,"d":72},{"h":262.7,"d":61},{"h":263.3,"d":58},{"h":263.9,"d":53},{"h":264.5,"d":47},{"h":265.1,"d":37},{"h":265.6,"d":20},
{"h":266.4,"d":353},{"h":266.7,"d":331},{"h":267.0,"d":302},{"h":267.4,"d":285},{"h":267.8,"d":273},{"h":268.3,"d":264},{"h":268.9,"d":258},{"h":269.2,"d":249},{"h":269.5,"d":253},{"h":270.1,"d":246},{"h":270.4,"d":254},{"h":270.7,"d":243},{"h":271.3,"d":245},{"h":271.6,"d":238},{"h":271.9,"d":250},{"h":272.5,"d":257},
{"h":273.0,"d":71},{"h":273.5,"d":66},{"h":273.8,"d":57},{"h":274.0,"d":63},{"h":274.6,"d":60},{"h":275.0,"d":67},{"h":275.2,"d":56},{"h":275.8,"d":53},{"h":276.4,"d":48},{"h":277.0,"d":42},{"h":277.6,"d":32},{"h":278.1,"d":15},
{"h":279.0,"d":330},{"h":279.3,"d":310},{"h":279.6,"d":298},{"h":280.0,"d":285},{"h":280.4,"d":273},{"h":280.9,"d":264},{"h":281.5,"d":253},{"h":281.8,"d":244},{"h":282.1,"d":248},{"h":282.7,"d":241},{"h":283.0,"d":249},{"h":283.3,"d":238},{"h":283.9,"d":240},{"h":284.2,"d":233},{"h":284.5,"d":245},{"h":285.1,"d":252},
{"h":285.6,"d":75},{"h":286.1,"d":70},{"h":286.4,"d":61},{"h":286.6,"d":67},{"h":287.2,"d":64},{"h":287.6,"d":71},{"h":287.8,"d":60},{"h":288.4,"d":57},{"h":289.0,"d":52},{"h":289.6,"d":46},{"h":290.2,"d":36},{"h":290.7,"d":19},
{"h":290.9,"d":351},{"h":291.2,"d":329},{"h":291.5,"d":302},{"h":291.9,"d":285},{"h":292.3,"d":273},{"h":292.8,"d":264},{"h":293.4,"d":257},{"h":293.7,"d":248},{"h":294.0,"d":252},{"h":294.6,"d":245},{"h":294.9,"d":253},{"h":295.2,"d":242},{"h":295.8,"d":244},{"h":296.1,"d":237},{"h":296.4,"d":249},{"h":297.0,"d":256},
{"h":297.5,"d":74},{"h":298.0,"d":69},{"h":298.3,"d":60},{"h":298.5,"d":66},{"h":299.1,"d":63},{"h":299.5,"d":70},{"h":299.7,"d":59},{"h":300.3,"d":56},{"h":300.9,"d":51},{"h":301.5,"d":45},{"h":302.1,"d":35},{"h":302.6,"d":18},
{"h":304.0,"d":353},{"h":304.3,"d":331},{"h":304.6,"d":302},{"h":305.0,"d":285},{"h":305.4,"d":273},{"h":305.9,"d":264},{"h":306.5,"d":256},{"h":306.8,"d":247},{"h":307.1,"d":251},{"h":307.7,"d":244},{"h":308.0,"d":252},{"h":308.3,"d":241},{"h":308.9,"d":243},{"h":309.2,"d":236},{"h":309.5,"d":248},{"h":310.1,"d":255},
{"h":310.6,"d":78},{"h":311.1,"d":73},{"h":311.4,"d":64},{"h":311.6,"d":70},{"h":312.2,"d":67},{"h":312.6,"d":74},{"h":312.8,"d":63},{"h":313.4,"d":60},{"h":314.0,"d":55},{"h":314.6,"d":49},{"h":315.2,"d":39},{"h":315.7,"d":22},
{"h":316.5,"d":351},{"h":316.8,"d":329},{"h":317.1,"d":302},{"h":317.5,"d":285},{"h":317.9,"d":273},{"h":318.4,"d":264},{"h":319.0,"d":260},{"h":319.3,"d":251},{"h":319.6,"d":255},{"h":320.2,"d":248},{"h":320.5,"d":256},{"h":320.8,"d":245},{"h":321.4,"d":247},{"h":321.7,"d":240},{"h":322.0,"d":252},{"h":322.6,"d":259},
{"h":323.1,"d":72},{"h":323.6,"d":67},{"h":323.9,"d":58},{"h":324.1,"d":64},{"h":324.7,"d":61},{"h":325.1,"d":68},{"h":325.3,"d":57},{"h":325.9,"d":54},{"h":326.5,"d":49},{"h":327.1,"d":43},{"h":327.7,"d":33},{"h":328.2,"d":16},
{"h":329.1,"d":357},{"h":329.4,"d":335},{"h":329.7,"d":302},{"h":330.1,"d":285},{"h":330.5,"d":273},{"h":331.0,"d":264},{"h":331.6,"d":254},{"h":331.9,"d":245},{"h":332.2,"d":249},{"h":332.8,"d":242},{"h":333.1,"d":250},{"h":333.4,"d":239},{"h":334.0,"d":241},{"h":334.3,"d":234},{"h":334.6,"d":246},{"h":335.2,"d":253},
{"h":335.7,"d":73},{"h":336.2,"d":68},{"h":336.5,"d":59},{"h":336.7,"d":65},{"h":337.3,"d":62},{"h":337.7,"d":69},{"h":337.9,"d":58},{"h":338.5,"d":55},{"h":339.1,"d":50},{"h":339.7,"d":44},{"h":340.3,"d":34},{"h":340.8,"d":17},
{"h":341.4,"d":342},{"h":341.7,"d":320},{"h":342.0,"d":302},{"h":342.4,"d":285},{"h":342.8,"d":273},{"h":343.3,"d":264},{"h":343.9,"d":255},{"h":344.2,"d":246},{"h":344.5,"d":250},{"h":345.1,"d":243},{"h":345.4,"d":251},{"h":345.7,"d":240},{"h":346.3,"d":242},{"h":346.6,"d":235},{"h":346.9,"d":247},{"h":347.5,"d":254},
{"h":348.0,"d":77},{"h":348.5,"d":72},{"h":348.8,"d":63},{"h":349.0,"d":69},{"h":349.6,"d":66},{"h":350.0,"d":73},{"h":350.2,"d":62},{"h":350.8,"d":59},{"h":351.4,"d":54},{"h":352.0,"d":48},{"h":352.6,"d":38},{"h":353.1,"d":21},
{"h":354.3,"d":348},{"h":354.6,"d":326},{"h":354.9,"d":302},{"h":355.3,"d":285},{"h":355.7,"d":273},{"h":356.2,"d":264},{"h":356.8,"d":259},{"h":357.1,"d":250},{"h":357.4,"d":254},{"h":358.0,"d":247},{"h":358.3,"d":255},{"h":358.6,"d":244},{"h":359.2,"d":246},{"h":359.5,"d":239},{"h":359.8,"d":251},{"h":360.4,"d":258},
{"h":360.9,"d":71},{"h":361.4,"d":66},{"h":361.7,"d":57},{"h":361.9,"d":63},{"h":362.5,"d":60},{"h":362.9,"d":67},{"h":363.1,"d":56},{"h":363.7,"d":53},{"h":364.3,"d":48},{"h":364.9,"d":42},{"h":365.5,"d":32},{"h":366.0,"d":15},
{"h":367.4,"d":351},{"h":367.7,"d":329},{"h":368.0,"d":302},{"h":368.4,"d":285},{"h":368.8,"d":273},{"h":369.3,"d":264},{"h":369.9,"d":253},{"h":370.2,"d":244},{"h":370.5,"d":248},{"h":371.1,"d":241},{"h":371.4,"d":249},{"h":371.7,"d":238},{"h":372.3,"d":240},{"h":372.6,"d":233},{"h":372.9,"d":245},{"h":373.5,"d":252},
{"h":374.0,"d":75},{"h":374.5,"d":70},{"h":374.8,"d":61},{"h":375.0,"d":67},{"h":375.6,"d":64},{"h":376.0,"d":71},{"h":376.2,"d":60},{"h":376.8,"d":57},{"h":377.4,"d":52},{"h":378.0,"d":46},{"h":378.6,"d":36},{"h":379.1,"d":19},
{"h":379.5,"d":351},{"h":379.8,"d":329},{"h":380.1,"d":302},{"h":380.5,"d":285},{"h":380.9,"d":273},{"h":381.4,"d":264},{"h":382.0,"d":257},{"h":382.3,"d":248},{"h":382.6,"d":252},{"h":383.2,"d":245},{"h":383.5,"d":253},{"h":383.8,"d":242},{"h":384.4,"d":244},{"h":384.7,"d":237},
{"h":13.0,"d":90},{"h":24.8,"d":133},{"h":25.0,"d":101},{"h":37.5,"d":119},{"h":37.6,"d":306},{"h":50.0,"d":93},{"h":62.6,"d":122},{"h":62.7,"d":216},{"h":75.0,"d":324},{"h":75.4,"d":97},{"h":87.7,"d":94},{"h":87.8,"d":202},{"h":99.7,"d":133},{"h":100.0,"d":84},{"h":112.3,"d":80},{"h":124.8,"d":107},{"h":137.0,"d":260},{"h":149.4,"d":118},{"h":149.5,"d":215},{"h":161.8,"d":88},{"h":174.3,"d":96},{"h":186.8,"d":85},{"h":199.2,"d":230},{"h":199.3,"d":111},{"h":224.0,"d":100},{"h":236.3,"d":138},{"h":248.5,"d":86},{"h":261.0,"d":120},{"h":261.1,"d":218},{"h":273.4,"d":101},{"h":285.6,"d":130},{"h":298.1,"d":89},{"h":310.5,"d":98},{"h":322.9,"d":130},{"h":335.4,"d":92},{"h":347.9,"d":105},{"h":360.3,"d":201},{"h":372.8,"d":97},
{"h":1.0,"d":68},{"h":2.0,"d":55},{"h":3.0,"d":61},{"h":4.0,"d":52},
{"h":8.4,"d":250},{"h":9.7,"d":238},{"h":10.7,"d":253},{"h":11.2,"d":239},{"h":12.0,"d":246},{"h":12.5,"d":262},{"h":14.1,"d":72},{"h":15.3,"d":64},{"h":15.9,"d":58},{"h":16.5,"d":53},
{"h":21.1,"d":253},{"h":22.4,"d":241},{"h":23.4,"d":256},{"h":23.9,"d":242},{"h":24.7,"d":249},{"h":25.2,"d":262},{"h":26.8,"d":70},{"h":28.0,"d":62},{"h":28.6,"d":56},{"h":29.2,"d":51},
{"h":33.8,"d":248},{"h":35.1,"d":236},{"h":36.1,"d":251},{"h":36.6,"d":237},{"h":37.4,"d":244},{"h":37.9,"d":262},{"h":39.5,"d":75},{"h":40.7,"d":67},{"h":41.3,"d":61},{"h":41.9,"d":56},
{"h":46.7,"d":254},{"h":48.0,"d":242},{"h":49.0,"d":257},{"h":49.5,"d":243},{"h":50.3,"d":250},{"h":50.8,"d":262},{"h":52.4,"d":72},{"h":53.6,"d":64},{"h":54.2,"d":58},{"h":54.8,"d":53},
{"h":58.8,"d":247},{"h":60.1,"d":235},{"h":61.1,"d":250},{"h":61.6,"d":236},{"h":62.4,"d":243},{"h":62.9,"d":262},{"h":64.5,"d":69},{"h":65.7,"d":61},{"h":66.3,"d":55},{"h":66.9,"d":50},
{"h":71.2,"d":251},{"h":72.5,"d":239},{"h":73.5,"d":254},{"h":74.0,"d":240},{"h":74.8,"d":247},{"h":75.3,"d":262},{"h":76.9,"d":74},{"h":78.1,"d":66},{"h":78.7,"d":60},{"h":79.3,"d":55},
{"h":83.1,"d":249},{"h":84.4,"d":237},{"h":85.4,"d":252},{"h":85.9,"d":238},{"h":86.7,"d":245},{"h":87.2,"d":262},{"h":88.8,"d":73},{"h":90.0,"d":65},{"h":90.6,"d":59},{"h":91.2,"d":54},
{"h":95.6,"d":252},{"h":96.9,"d":240},{"h":97.9,"d":255},{"h":98.4,"d":241},{"h":99.2,"d":248},{"h":99.7,"d":262},{"h":101.3,"d":71},{"h":102.5,"d":63},{"h":103.1,"d":57},{"h":103.7,"d":52},
{"h":108.1,"d":246},{"h":109.4,"d":234},{"h":110.4,"d":249},{"h":110.9,"d":235},{"h":111.7,"d":242},{"h":112.2,"d":262},{"h":113.8,"d":76},{"h":115.0,"d":68},{"h":115.6,"d":62},{"h":116.2,"d":57},
{"h":120.0,"d":253},{"h":121.3,"d":241},{"h":122.3,"d":256},{"h":122.8,"d":242},{"h":123.6,"d":249},{"h":124.1,"d":262},{"h":125.7,"d":70},{"h":126.9,"d":62},{"h":127.5,"d":56},{"h":128.1,"d":51},
{"h":132.3,"d":250},{"h":133.6,"d":238},{"h":134.6,"d":253},{"h":135.1,"d":239},{"h":135.9,"d":246},{"h":136.4,"d":262},{"h":138.0,"d":72},{"h":139.2,"d":64},{"h":139.8,"d":58},{"h":140.4,"d":53},
{"h":145.0,"d":248},{"h":146.3,"d":236},{"h":147.3,"d":251},{"h":147.8,"d":237},{"h":148.6,"d":244},{"h":149.1,"d":262},{"h":150.7,"d":75},{"h":151.9,"d":67},{"h":152.5,"d":61},{"h":153.1,"d":56},
{"h":156.7,"d":252},{"h":158.0,"d":240},{"h":159.0,"d":255},{"h":159.5,"d":241},{"h":160.3,"d":248},{"h":160.8,"d":262},{"h":162.4,"d":71},{"h":163.6,"d":63},{"h":164.2,"d":57},{"h":164.8,"d":52},
{"h":169.2,"d":249},{"h":170.5,"d":237},{"h":171.5,"d":252},{"h":172.0,"d":238},{"h":172.8,"d":245},{"h":173.3,"d":262},{"h":174.9,"d":74},{"h":176.1,"d":66},{"h":176.7,"d":60},{"h":177.3,"d":55},
{"h":181.7,"d":254},{"h":183.0,"d":242},{"h":184.0,"d":257},{"h":184.5,"d":243},{"h":185.3,"d":250},{"h":185.8,"d":262},{"h":187.4,"d":69},{"h":188.6,"d":61},{"h":189.2,"d":55},{"h":189.8,"d":50},
{"h":194.2,"d":247},{"h":195.5,"d":235},{"h":196.5,"d":250},{"h":197.0,"d":236},{"h":197.8,"d":243},{"h":198.3,"d":262},{"h":199.9,"d":73},{"h":201.1,"d":65},{"h":201.7,"d":59},{"h":202.3,"d":54},
{"h":206.7,"d":251},{"h":208.0,"d":239},{"h":209.0,"d":254},{"h":209.5,"d":240},{"h":210.3,"d":247},{"h":210.8,"d":262},{"h":212.4,"d":72},{"h":213.6,"d":64},{"h":214.2,"d":58},{"h":214.8,"d":53},
{"h":219.0,"d":250},{"h":220.3,"d":238},{"h":221.3,"d":253},{"h":221.8,"d":239},{"h":222.6,"d":246},{"h":223.1,"d":262},{"h":224.7,"d":70},{"h":225.9,"d":62},{"h":226.5,"d":56},{"h":227.1,"d":51},
{"h":231.1,"d":248},{"h":232.4,"d":236},{"h":233.4,"d":251},{"h":233.9,"d":237},{"h":234.7,"d":244},{"h":235.2,"d":262},{"h":236.8,"d":75},{"h":238.0,"d":67},{"h":238.6,"d":61},{"h":239.2,"d":56},
{"h":243.7,"d":253},{"h":245.0,"d":241},{"h":246.0,"d":256},{"h":246.5,"d":242},{"h":247.3,"d":249},{"h":247.8,"d":262},{"h":249.4,"d":71},{"h":250.6,"d":63},{"h":251.2,"d":57},{"h":251.8,"d":52},
{"h":256.1,"d":249},{"h":257.4,"d":237},{"h":258.4,"d":252},{"h":258.9,"d":238},{"h":259.7,"d":245},{"h":260.2,"d":262},{"h":261.8,"d":74},{"h":263.0,"d":66},{"h":263.6,"d":60},{"h":264.2,"d":55},
{"h":268.6,"d":252},{"h":269.9,"d":240},{"h":270.9,"d":255},{"h":271.4,"d":241},{"h":272.2,"d":248},{"h":272.7,"d":262},{"h":274.3,"d":69},{"h":275.5,"d":61},{"h":276.1,"d":55},{"h":276.7,"d":50},
{"h":281.2,"d":247},{"h":282.5,"d":235},{"h":283.5,"d":250},{"h":284.0,"d":236},{"h":284.8,"d":243},{"h":285.3,"d":262},{"h":286.9,"d":73},{"h":288.1,"d":65},{"h":288.7,"d":59},{"h":289.3,"d":54},
{"h":293.1,"d":251},{"h":294.4,"d":239},{"h":295.4,"d":254},{"h":295.9,"d":240},{"h":296.7,"d":247},{"h":297.2,"d":262},{"h":298.8,"d":72},{"h":300.0,"d":64},{"h":300.6,"d":58},{"h":301.2,"d":53},
{"h":306.2,"d":250},{"h":307.5,"d":238},{"h":308.5,"d":253},{"h":309.0,"d":239},{"h":309.8,"d":246},{"h":310.3,"d":262},{"h":311.9,"d":76},{"h":313.1,"d":68},{"h":313.7,"d":62},{"h":314.3,"d":57},
{"h":318.7,"d":254},{"h":320.0,"d":242},{"h":321.0,"d":257},{"h":321.5,"d":243},{"h":322.3,"d":250},{"h":322.8,"d":262},{"h":324.4,"d":70},{"h":325.6,"d":62},{"h":326.2,"d":56},{"h":326.8,"d":51},
{"h":331.3,"d":248},{"h":332.6,"d":236},{"h":333.6,"d":251},{"h":334.1,"d":237},{"h":334.9,"d":244},{"h":335.4,"d":262},{"h":337.0,"d":71},{"h":338.2,"d":63},{"h":338.8,"d":57},{"h":339.4,"d":52},
{"h":343.6,"d":249},{"h":344.9,"d":237},{"h":345.9,"d":252},{"h":346.4,"d":238},{"h":347.2,"d":245},{"h":347.7,"d":262},{"h":349.3,"d":75},{"h":350.5,"d":67},{"h":351.1,"d":61},{"h":351.7,"d":56},
{"h":356.5,"d":253},{"h":357.8,"d":241},{"h":358.8,"d":256},{"h":359.3,"d":242},{"h":360.1,"d":249},{"h":360.6,"d":262},{"h":362.2,"d":69},{"h":363.4,"d":61},{"h":364.0,"d":55},{"h":364.6,"d":50},
{"h":369.6,"d":247},{"h":370.9,"d":235},{"h":371.9,"d":250},{"h":372.4,"d":236},{"h":373.2,"d":243},{"h":373.7,"d":262},{"h":375.3,"d":73},{"h":376.5,"d":65},{"h":377.1,"d":59},{"h":377.7,"d":54},
{"h":381.7,"d":251},{"h":383.0,"d":239},{"h":384.0,"d":254},{"h":384.5,"d":240}
]
},
"layer":[
{"data":{"name":"speed"},
 "mark":{"type":"line","color":"#000080","strokeWidth":2.4,"interpolate":"linear"},
 "encoding":{
  "x":{"field":"h","type":"quantitative","scale":{"domain":[0,385],"nice":false,"zero":false},
   "axis":{"orient":"bottom","values":[0,6.667,13.333,20,26.667,33.333,40,46.667,53.333,60,66.667,73.333,80,86.667,93.333,100,106.667,113.333,120,126.667,133.333,140,146.667,153.333,160,166.667,173.333,180,186.667,193.333,200,206.667,213.333,220,226.667,233.333,240,246.667,253.333,260,266.667,273.333,280,286.667,293.333,300,306.667,313.333,320,326.667,333.333,340,346.667,353.333,360,366.667,373.333,380],
    "labelExpr":"indexof([0,67,133,200,267,333], round(datum.value)) >= 0 ? ['16/11/2010','18/11/2010','21/11/2010','24/11/2010','27/11/2010','29/11/2010'][indexof([0,67,133,200,267,333], round(datum.value))] : ''",
    "labelFlush":false,"labelOverlap":false,"tickSize":7,"labelPadding":8,
    "title":"Date","titleX":488,"titleY":61,"titleBaseline":"middle","titleAlign":"center"}},
  "y":{"field":"s","type":"quantitative","scale":{"domain":[0,1],"nice":false,"zero":false},
   "axis":{"orient":"left","values":[0,0.1,0.2,0.3,0.4,0.5,0.6,0.7,0.8,0.9,1],"format":"~g","tickSize":7,"labelPadding":17,
    "title":"Current speed (m/s)","titleX":-80,"titleY":249,"titleAngle":270,"titleBaseline":"middle","titleAlign":"center"}}
 }},
{"data":{"name":"dir"},
 "mark":{"type":"point","shape":"diamond","filled":true,"color":"#FF00FF","size":50,"opacity":1},
 "encoding":{
  "x":{"field":"h","type":"quantitative","axis":null},
  "y":{"field":"d","type":"quantitative","scale":{"domain":[0,360],"nice":false,"zero":false},
   "axis":{"orient":"right","values":[0,45,90,135,180,225,270,315,360],"tickSize":7,"labelPadding":15,
    "title":"Current direction (°)","titleX":86,"titleY":242,"titleAngle":270,"titleBaseline":"middle","titleAlign":"center"}}
 }},
{"data":{"name":"speed"},
 "mark":{"type":"point","opacity":0},
 "encoding":{
  "x":{"field":"h","type":"quantitative",
   "axis":{"orient":"bottom","values":[0,6.667,13.333,20,26.667,33.333,40,46.667,53.333,60,66.667,73.333,80,86.667,93.333,100,106.667,113.333,120,126.667,133.333,140,146.667,153.333,160,166.667,173.333,180,186.667,193.333,200,206.667,213.333,220,226.667,233.333,240,246.667,253.333,260,266.667,273.333,280,286.667,293.333,300,306.667,313.333,320,326.667,333.333,340,346.667,353.333,360,366.667,373.333,380],"tickSize":-7,"labels":false,"domain":false,"title":null}},
  "y":{"field":"s","type":"quantitative","scale":{"domain":[0,1],"nice":false,"zero":false},
   "axis":{"orient":"left","values":[0,0.1,0.2,0.3,0.4,0.5,0.6,0.7,0.8,0.9,1],"tickSize":-7,"labels":false,"domain":false,"title":null}}
 }},
{"data":{"name":"dir"},
 "mark":{"type":"point","opacity":0},
 "encoding":{
  "x":{"field":"h","type":"quantitative","axis":null},
  "y":{"field":"d","type":"quantitative","scale":{"domain":[0,360],"nice":false,"zero":false},
   "axis":{"orient":"right","values":[0,45,90,135,180,225,270,315,360],"tickSize":-7,"labels":false,"domain":false,"title":null}}
 }},
{"data":{"values":[{"edge":"left"}]},
 "mark":{"type":"rule","color":"black","strokeWidth":1.5,"clip":false},
 "encoding":{
  "x":{"datum":-41.2,"type":"quantitative","axis":null},
  "y":{"datum":1.092,"type":"quantitative","scale":{"domain":[0,1],"nice":false,"zero":false},"axis":null},
  "y2":{"datum":-0.21}
 }},
{"data":{"values":[{"edge":"top"}]},
 "mark":{"type":"rule","color":"black","strokeWidth":1.5,"clip":false},
 "encoding":{
  "x":{"datum":-41.2,"type":"quantitative","axis":null},
  "x2":{"datum":430},
  "y":{"datum":1.092,"type":"quantitative","scale":{"domain":[0,1],"nice":false,"zero":false},"axis":null}
 }}
],
"resolve":{"scale":{"y":"independent"},"axis":{"x":"independent","y":"independent"}},
"config":{
 "font":"Liberation Sans",
 "view":{"stroke":"#888888","strokeWidth":1.5},
 "axis":{"domainColor":"black","domainWidth":2,"tickColor":"black","tickWidth":2,"grid":false,
  "labelFont":"Liberation Sans","labelFontSize":25,"labelColor":"black",
  "titleFont":"Liberation Sans","titleFontSize":25,"titleFontWeight":"bold","titleColor":"black"}
}
}
